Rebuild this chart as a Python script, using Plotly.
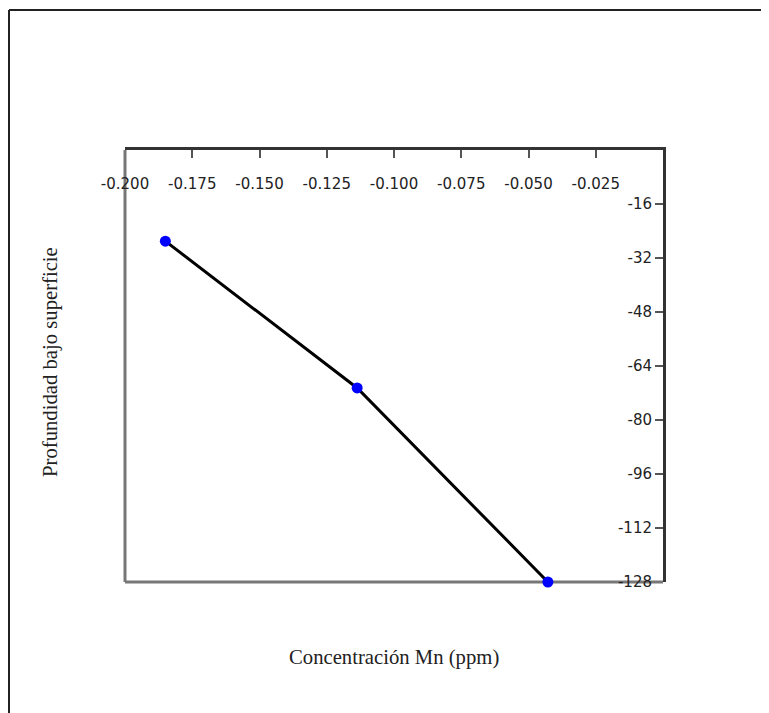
import plotly.graph_objects as go

# Data
concentracion_mn = [-0.185, -0.1137, -0.0428]
profundidad = [-27.0, -70.5, -128.0]

x_tick_vals = [-0.200, -0.175, -0.150, -0.125, -0.100, -0.075, -0.050, -0.025]
x_tick_text = ["-0.200", "-0.175", "-0.150", "-0.125", "-0.100", "-0.075", "-0.050", "-0.025"]
y_tick_vals = [-16, -32, -48, -64, -80, -96, -112, -128]
y_tick_text = ["-16", "-32", "-48", "-64", "-80", "-96", "-112", "-128"]

# page body has an 8px margin, so figure coords = screen coords - 8
OFF = 8
W, H = 769 - OFF, 713 - OFF
L, R, T, B = 125 - OFF, 769 - 663, 150 - OFF, 713 - 582
pw, ph = W - L - R, H - T - B

def px(xpix):
    return (xpix - OFF - L) / pw

def py(ypix):
    return (H - B - (ypix - OFF)) / ph

fig = go.Figure()
fig.add_trace(go.Scatter(
    x=concentracion_mn, y=profundidad, mode="lines+markers",
    line=dict(color="black", width=3),
    marker=dict(color="#0000ff", size=11),
    cliponaxis=False, showlegend=False,
))

tick_font = dict(family="DejaVu Sans", size=15, color="#222")
fig.update_layout(
    width=W, height=H,
    margin=dict(l=L, r=R, t=T, b=B),
    paper_bgcolor="white", plot_bgcolor="rgba(0,0,0,0)",
    xaxis=dict(
        side="top", range=[-0.2, 0], showgrid=False, zeroline=False,
        showline=True, linecolor="#333", linewidth=3,
        ticks="inside", ticklen=8, tickwidth=2, tickcolor="#555",
        ticklabelposition="inside", ticklabelstandoff=20, ticklabeloverflow="allow",
        tickvals=x_tick_vals, ticktext=x_tick_text, tickfont=tick_font,
    ),
    yaxis=dict(
        side="right", range=[-128, 0], showgrid=False, zeroline=False,
        showline=True, linecolor="#333", linewidth=3,
        ticks="inside", ticklen=8, tickwidth=2, tickcolor="#555",
        ticklabelposition="inside", ticklabelstandoff=3, ticklabeloverflow="allow",
        tickvals=y_tick_vals, ticktext=y_tick_text, tickfont=tick_font,
    ),
    shapes=[
        dict(type="line", xref="paper", yref="paper", x0=0, x1=0, y0=0, y1=1,
             line=dict(color="#777", width=3), layer="below"),
        dict(type="line", xref="paper", yref="paper", x0=0, x1=1, y0=0, y1=0,
             line=dict(color="#777", width=3), layer="below"),
        dict(type="line", xref="paper", yref="paper", x0=px(9), x1=px(769), y0=py(10), y1=py(10),
             line=dict(color="#222", width=2), layer="above"),
        dict(type="line", xref="paper", yref="paper", x0=px(9), x1=px(9), y0=py(10), y1=py(713),
             line=dict(color="#222", width=2), layer="above"),
    ],
    annotations=[
        dict(text="Concentración Mn (ppm)", xref="paper", yref="paper",
             x=px(394), y=py(657), xanchor="center", yanchor="middle", showarrow=False,
             font=dict(family="Liberation Serif", size=20.7, color="#222")),
        dict(text="Profundidad bajo superficie", xref="paper", yref="paper",
             x=px(50), y=py(362), xanchor="center", yanchor="middle", showarrow=False,
             textangle=-90,
             font=dict(family="Liberation Serif", size=20.7, color="#222")),
    ],
)

fig.write_html("out.html")
